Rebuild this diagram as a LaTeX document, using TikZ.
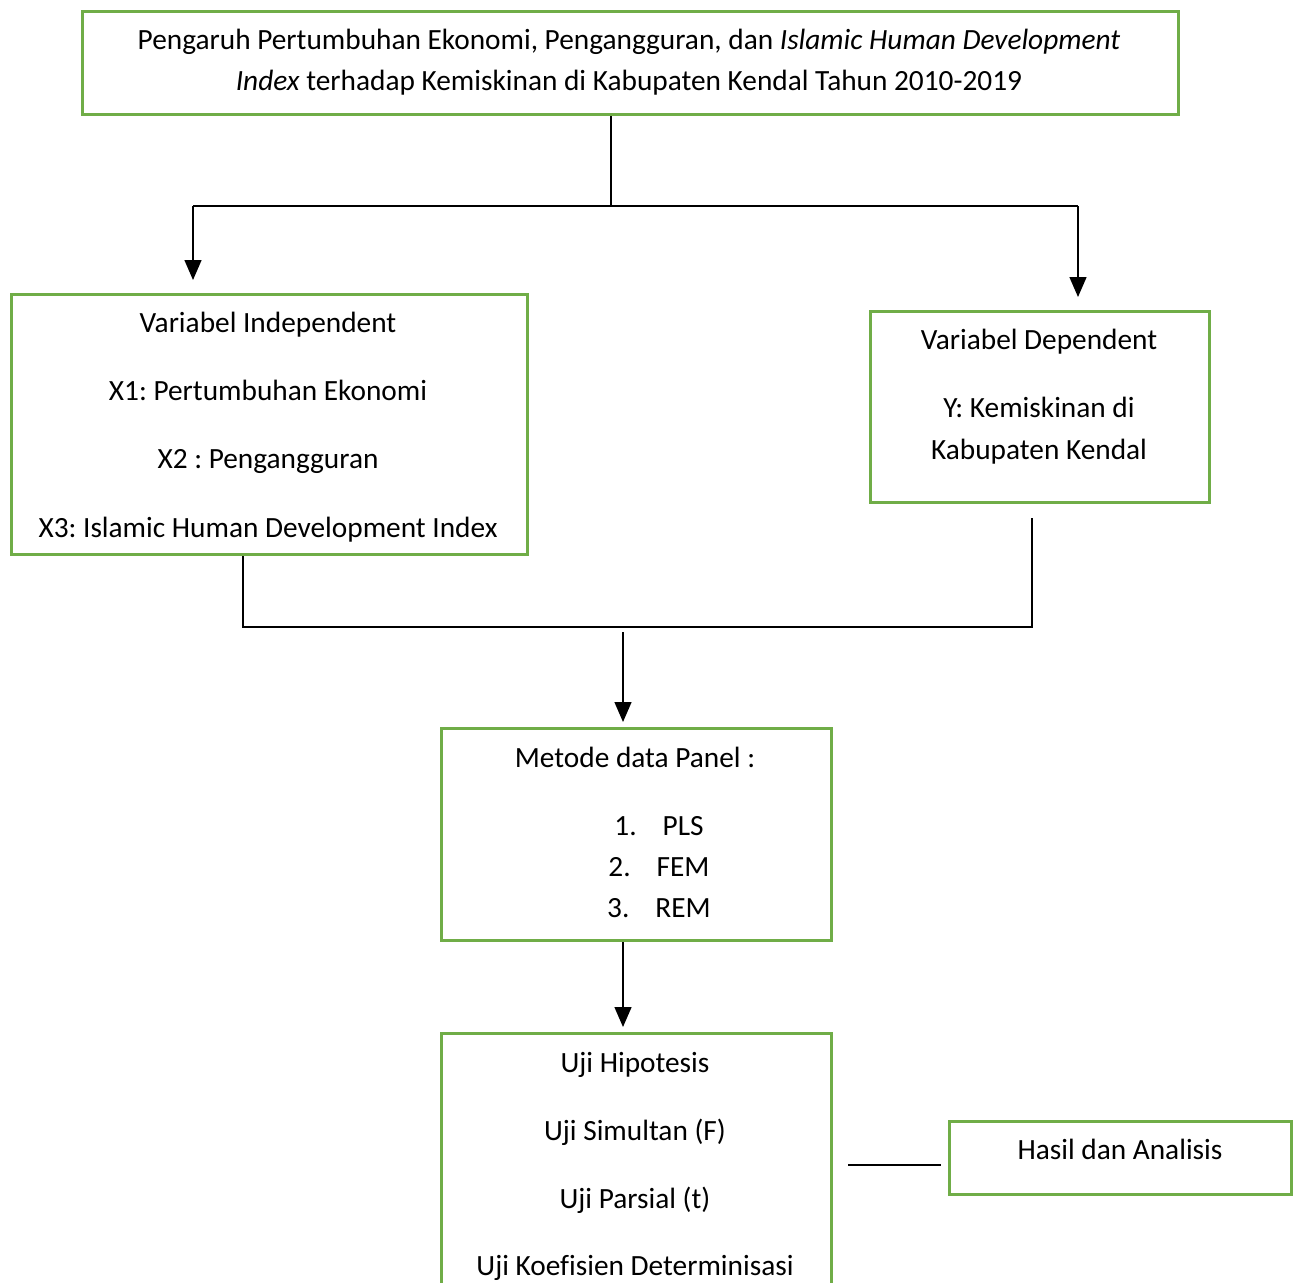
\documentclass[tikz,border=0pt]{standalone}
\usepackage{fontspec}
\setmainfont{Carlito}[Ligatures=NoCommon]
\usetikzlibrary{arrows.meta}
\definecolor{boxgreen}{HTML}{70AD47}
\frenchspacing
\begin{document}
\begin{tikzpicture}[x=1pt,y=-1pt,
  box/.style={draw=boxgreen,line width=3pt,inner sep=0pt,anchor=north west},
  txt/.style={inner sep=0pt,anchor=base,font=\fontsize{29.33}{40}\selectfont},
  conn/.style={draw=black,line width=1.4pt},
  arr/.style={conn,-{Triangle[width=17pt,length=20pt]}}]
\useasboundingbox (0,0) rectangle (1294,1283);
\clip (0,0) rectangle (1294,1283);
% boxes
\node[box,minimum width=1096pt,minimum height=103pt] (title) at (81,10) {};
\node[box,minimum width=516pt,minimum height=260pt] (indep) at (10,293) {};
\node[box,minimum width=339pt,minimum height=191pt] (dep) at (869,310) {};
\node[box,minimum width=390pt,minimum height=212pt] (metode) at (440,727) {};
\node[box,minimum width=390pt,minimum height=300pt] (uji) at (440,1032) {};
\node[box,minimum width=342pt,minimum height=73pt] (hasil) at (948,1120) {};
% texts
\node[txt] (t1) at (629,49) {Pengaruh Pertumbuhan Ekonomi, Pengangguran, dan \textit{Islamic Human Development}};
\node[txt] (t2) at (629,90) {\textit{Index} terhadap Kemiskinan di Kabupaten Kendal Tahun 2010-2019};
\node[txt] (i1) at (268,332) {Variabel Independent};
\node[txt] (i2) at (268,400) {X1: Pertumbuhan Ekonomi};
\node[txt] (i3) at (268,468) {X2 : Pengangguran};
\node[txt] (i4) at (268,537) {X3: Islamic Human Development Index};
\node[txt] (d1) at (1039,349) {Variabel Dependent};
\node[txt] (d2) at (1039,417) {Y: Kemiskinan di};
\node[txt] (d3) at (1039,459) {Kabupaten Kendal};
\node[txt] (m0) at (635,767) {Metode data Panel :};
\node[txt] (m1) at (659,835) {1.\hspace{26pt}PLS};
\node[txt] (m2) at (659,876) {2.\hspace{26pt}FEM};
\node[txt] (m3) at (659,917) {3.\hspace{26pt}REM};
\node[txt] (u1) at (635,1072) {Uji Hipotesis};
\node[txt] (u2) at (635,1140) {Uji Simultan (F)};
\node[txt] (u3) at (635,1208) {Uji Parsial (t)};
\node[txt] (u4) at (635,1275) {Uji Koefisien Determinisasi};
\node[txt] (h1) at (1120,1159) {Hasil dan Analisis};
% connectors
\coordinate (jt) at (611,206);
\coordinate (jl) at (193,206);
\coordinate (jr) at (1078,206);
\draw[conn] (title.south -| jt) -- (jt);
\draw[conn] (jl) -- (jr);
\draw[arr,shorten >=13pt] (jl) -- (jl |- indep.north);
\draw[arr,shorten >=13pt] (jr) -- (jr |- dep.north);
\coordinate (ml) at (243,627);
\coordinate (mr) at (1032,627);
\draw[conn] (indep.south -| ml) -- (ml) -- (mr) -- ([yshift=-14pt]dep.south -| mr);
\coordinate (ma) at (623,632);
\draw[arr,shorten >=5pt] (ma) -- (ma |- metode.north);
\draw[arr,shorten >=5pt] (metode.south -| ma) -- (ma |- uji.north);
\coordinate (hy) at (0,1165);
\draw[conn] ([xshift=15pt]uji.east |- hy) -- ([xshift=-7pt]hasil.west |- hy);
\end{tikzpicture}
\end{document}
